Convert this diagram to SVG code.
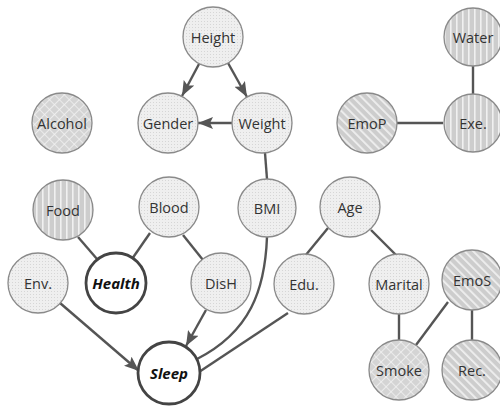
<svg xmlns="http://www.w3.org/2000/svg" width="500" height="407" viewBox="0 0 500 407">
  <defs>
    <!-- fine dotted texture for the plain variables -->
    <pattern id="dots" width="3" height="3" patternUnits="userSpaceOnUse">
      <rect width="3" height="3" fill="#efefef"/>
      <rect x="0" y="0" width="1" height="1" fill="#d6d6d6"/>
    </pattern>
    <!-- cross-hatched texture -->
    <pattern id="cross" width="7" height="7" patternUnits="userSpaceOnUse" patternTransform="rotate(45)">
      <rect width="7" height="7" fill="#d4d4d4"/>
      <path d="M0,0 H7 M0,0 V7" stroke="#f2f2f2" stroke-width="1.6"/>
    </pattern>
    <!-- vertical stripes -->
    <pattern id="vstripe" width="6" height="6" patternUnits="userSpaceOnUse">
      <rect width="6" height="6" fill="#cdcdcd"/>
      <rect x="0" y="0" width="1.6" height="6" fill="#f0f0f0"/>
    </pattern>
    <!-- diagonal stripes -->
    <pattern id="dstripe" width="6" height="6" patternUnits="userSpaceOnUse" patternTransform="rotate(-45)">
      <rect width="6" height="6" fill="#cdcdcd"/>
      <rect x="0" y="0" width="1.8" height="6" fill="#efefef"/>
    </pattern>
    <marker id="arrow" viewBox="0 0 15 12" refX="15" refY="6" markerWidth="15" markerHeight="12" markerUnits="userSpaceOnUse" orient="auto">
      <path d="M0,0 L15,6 L0,12 L3,6 Z" fill="#555"/>
    </marker>
  </defs>
  <style>
    .edge { fill: none; stroke: #555; stroke-width: 2.4; }
    .node circle { stroke: #8a8a8a; stroke-width: 1.3; }
    .plain circle { fill: url(#dots); }
    .cross circle { fill: url(#cross); }
    .vstripe circle { fill: url(#vstripe); }
    .dstripe circle { fill: url(#dstripe); }
    .target circle { fill: #ffffff; stroke: #444; stroke-width: 2.8; }
    .node text { font-family: "Open Sans", "DejaVu Sans", sans-serif; font-size: 14.5px; fill: #333; text-anchor: middle; dominant-baseline: central; }
    .target text { font-weight: bold; font-style: italic; font-size: 15px; fill: #111; }
  </style>

  <rect width="500" height="407" fill="#ffffff"/>

  <g id="connectors">
    <line class="edge" x1="199" y1="64" x2="182" y2="96" marker-end="url(#arrow)"/>
    <line class="edge" x1="228" y1="63" x2="247" y2="97" marker-end="url(#arrow)"/>
    <line class="edge" x1="232" y1="123" x2="198" y2="123" marker-end="url(#arrow)"/>
    <line class="edge" x1="265" y1="153" x2="267" y2="179"/>
    <line class="edge" x1="473" y1="66" x2="473" y2="94"/>
    <line class="edge" x1="397" y1="123" x2="443" y2="123"/>
    <line class="edge" x1="78" y1="237" x2="97" y2="259"/>
    <line class="edge" x1="150" y1="233" x2="132" y2="259"/>
    <line class="edge" x1="183" y1="235" x2="203" y2="260"/>
    <line class="edge" x1="60" y1="303" x2="139" y2="371" marker-end="url(#arrow)"/>
    <line class="edge" x1="206" y1="310" x2="186" y2="346" marker-end="url(#arrow)"/>
    <path class="edge" d="M267,237 C265,290 250,332 197,359"/>
    <line class="edge" x1="288" y1="313" x2="199" y2="372"/>
    <line class="edge" x1="328" y1="228" x2="305" y2="256"/>
    <line class="edge" x1="371" y1="230" x2="398" y2="257"/>
    <line class="edge" x1="399" y1="314" x2="399" y2="340"/>
    <line class="edge" x1="448" y1="302" x2="416" y2="345"/>
    <line class="edge" x1="472" y1="310" x2="472" y2="341"/>
  </g>

  <g id="height" class="node plain"><circle cx="213" cy="37" r="30"/><text x="213" y="37">Height</text></g>
  <g id="gender" class="node plain"><circle cx="168" cy="123" r="30"/><text x="168" y="123">Gender</text></g>
  <g id="weight" class="node plain"><circle cx="262" cy="123" r="30"/><text x="262" y="123">Weight</text></g>
  <g id="alcohol" class="node cross"><circle cx="62" cy="123" r="30"/><text x="62" y="123">Alcohol</text></g>
  <g id="emop" class="node dstripe"><circle cx="367" cy="123" r="30"/><text x="367" y="123">EmoP</text></g>
  <g id="water" class="node vstripe"><circle cx="473" cy="37" r="29"/><text x="473" y="37">Water</text></g>
  <g id="exe" class="node vstripe"><circle cx="473" cy="123" r="29"/><text x="473" y="123">Exe.</text></g>

  <g id="food" class="node vstripe"><circle cx="63" cy="210" r="30"/><text x="63" y="210">Food</text></g>
  <g id="blood" class="node plain"><circle cx="169" cy="207" r="30"/><text x="169" y="207">Blood</text></g>
  <g id="bmi" class="node plain"><circle cx="267" cy="208" r="29"/><text x="267" y="208">BMI</text></g>
  <g id="age" class="node plain"><circle cx="350" cy="207" r="30"/><text x="350" y="207">Age</text></g>

  <g id="env" class="node plain"><circle cx="38" cy="283" r="30"/><text x="38" y="283">Env.</text></g>
  <g id="health" class="node target"><circle cx="116" cy="283" r="30"/><text x="116" y="283">Health</text></g>
  <g id="dish" class="node plain"><circle cx="221" cy="283" r="30"/><text x="221" y="283">DisH</text></g>
  <g id="edu" class="node plain"><circle cx="304" cy="284" r="30"/><text x="304" y="284">Edu.</text></g>
  <g id="marital" class="node plain"><circle cx="399" cy="284" r="30"/><text x="399" y="284">Marital</text></g>
  <g id="emos" class="node dstripe"><circle cx="472" cy="280" r="30"/><text x="472" y="280">EmoS</text></g>

  <g id="sleep" class="node target"><circle cx="169" cy="373" r="31"/><text x="169" y="373">Sleep</text></g>
  <g id="smoke" class="node cross"><circle cx="399" cy="370" r="30"/><text x="399" y="370">Smoke</text></g>
  <g id="rec" class="node dstripe"><circle cx="472" cy="370" r="30"/><text x="472" y="370">Rec.</text></g>
</svg>
